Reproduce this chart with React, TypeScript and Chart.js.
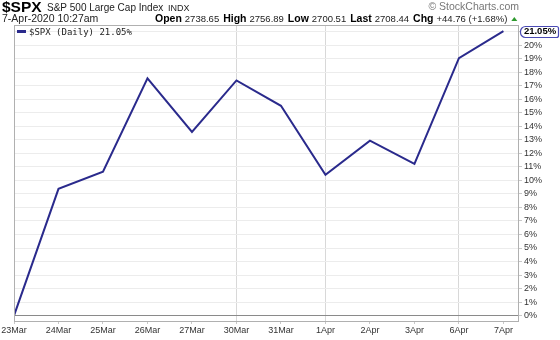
import React, { useEffect, useRef } from "react";
import { Chart, registerables } from "chart.js";

Chart.register(...registerables);

const categories = ["23Mar", "24Mar", "25Mar", "26Mar", "27Mar", "30Mar", "31Mar", "1Apr", "2Apr", "3Apr", "6Apr", "7Apr"];
const pctChange = [0, 9.38, 10.64, 17.55, 13.59, 17.4, 15.52, 10.42, 12.94, 11.23, 19.05, 21.05];
const verticalGridIdx = [0, 5, 7, 10];
const yTickMin = -0.4;
const yTickMax = 21.5;
const lastLabel = "21.05%";
const legendText = "$SPX (Daily) 21.05%";
const ohlcLabels = ["Open", "High", "Low", "Last", "Chg"];
const ohlcValues = ["2738.65", "2756.89", "2700.51", "2708.44", "+44.76 (+1.68%)"];

const LINE = "#2a2a8c";
const SANS = "'Liberation Sans', Arial, sans-serif";

const headerPlugin = {
  id: "header",
  afterDraw(chart: any) {
    const ctx = chart.ctx as CanvasRenderingContext2D;
    const ca = chart.chartArea;
    ctx.save();
    // frame
    ctx.strokeStyle = "#b0b0b0";
    ctx.lineWidth = 1;
    ctx.strokeRect(Math.round(ca.left) + 0.5, Math.round(ca.top) + 0.5, Math.round(ca.right - ca.left) - 1, Math.round(ca.bottom - ca.top));
    // title
    ctx.fillStyle = "#000";
    ctx.textBaseline = "alphabetic";
    ctx.textAlign = "left";
    ctx.font = `bold 15.5px ${SANS}`;
    ctx.fillText("$SPX", 2, 12);
    ctx.font = `10px ${SANS}`;
    ctx.fillStyle = "#222";
    ctx.fillText("S&P 500 Large Cap Index", 47, 11);
    ctx.font = `9px ${SANS}`;
    ctx.fillText("INDX", 168, 11);
    // date
    ctx.font = `10.5px ${SANS}`;
    ctx.fillStyle = "#222";
    ctx.fillText("7-Apr-2020 10:27am", 2, 22);
    // ohlc
    let x = 155;
    ohlcLabels.forEach((lab, i) => {
      ctx.font = `bold 10.5px ${SANS}`;
      ctx.fillStyle = "#000";
      ctx.fillText(lab, x, 22);
      x += ctx.measureText(lab).width + 3;
      ctx.font = `9.5px ${SANS}`;
      ctx.fillStyle = "#222";
      ctx.fillText(ohlcValues[i], x, 22);
      x += ctx.measureText(ohlcValues[i]).width + 4;
    });
    // green triangle
    ctx.fillStyle = "#2e9a2e";
    ctx.beginPath();
    ctx.moveTo(x, 21);
    ctx.lineTo(x + 6, 21);
    ctx.lineTo(x + 3, 17);
    ctx.closePath();
    ctx.fill();
    // copyright
    ctx.font = `10.5px ${SANS}`;
    ctx.fillStyle = "#777";
    ctx.textAlign = "right";
    ctx.fillText("© StockCharts.com", 519, 10);
    // legend
    ctx.fillStyle = LINE;
    ctx.fillRect(17, 30, 9, 3);
    ctx.textAlign = "left";
    ctx.fillStyle = "#222";
    ctx.font = `9px 'DejaVu Sans Mono', monospace`;
    ctx.fillText(legendText, 29, 35);
    // last value box
    const ys = chart.scales.y;
    const yv = ys.getPixelForValue(pctChange[pctChange.length - 1]);
    ctx.font = `bold 9.5px ${SANS}`;
    const w = 38;
    const bx = 520.5, bh = 11, by = Math.round(yv - bh / 2) + 0.5;
    ctx.fillStyle = "#fff";
    ctx.strokeStyle = "#4a4ab4";
    ctx.lineWidth = 1.2;
    ctx.beginPath();
    ctx.roundRect(bx, by, w, bh, [5, 2, 2, 5]);
    ctx.fill();
    ctx.stroke();
    ctx.fillStyle = "#000";
    ctx.textBaseline = "middle";
    ctx.textAlign = "center";
    ctx.fillText(lastLabel, bx + w / 2 + 0.5, yv + 0.5);
    ctx.restore();
  },
};

export default function App() {
  const ref = useRef<HTMLCanvasElement>(null);
  useEffect(() => {
    const chart = new Chart(ref.current!, {
      type: "line",
      data: {
        datasets: [
          {
            data: pctChange.map((v, i) => ({ x: i, y: v })),
            borderColor: LINE,
            borderWidth: 2,
            pointRadius: 0,
            tension: 0,
          },
        ],
      },
      options: {
        animation: false,
        responsive: false,
        maintainAspectRatio: false,
        layout: { padding: { top: 25, left: 14, right: 0, bottom: 0 } },
        plugins: { legend: { display: false }, tooltip: { enabled: false } },
        scales: {
          x: {
            type: "linear",
            min: 0,
            max: 11.35,
            afterFit: (s: any) => { s.height = 19; },
            border: { display: false },
            grid: {
              color: (c: any) => (verticalGridIdx.includes(c.tick?.value) ? "#d8d8d8" : "rgba(0,0,0,0)"),
              tickColor: "#c8c8c8",
              tickLength: 3,
              drawOnChartArea: true,
            },
            ticks: {
              stepSize: 1,
              includeBounds: false,
              autoSkip: false,
              maxRotation: 0,
              padding: 1,
              color: "#333",
              font: { family: SANS, size: 9 },
              callback: (v: any) => (Number.isInteger(v) && categories[v] !== undefined ? categories[v] : ""),
            },
          },
          y: {
            position: "right",
            min: yTickMin,
            max: yTickMax,
            afterFit: (s: any) => { s.width = 41; },
            border: { display: false },
            grid: {
              color: (c: any) => (c.tick?.value === 0 ? "#8a8a8a" : "#ececec"),
              tickColor: "#c8c8c8",
              tickLength: 3,
            },
            ticks: {
              stepSize: 1,
              includeBounds: false,
              padding: 2,
              color: "#333",
              font: { family: SANS, size: 9 },
              callback: (v: any) => (v >= 21 ? "" : `${v}%`),
            },
          },
        },
      },
      plugins: [headerPlugin],
    });
    return () => chart.destroy();
  }, []);
  return (
    <div style={{ position: "fixed", left: 0, top: 0, width: 560, height: 340, background: "#fff" }}>
      <canvas ref={ref} width={560} height={340} style={{ width: 560, height: 340 }} />
    </div>
  );
}
